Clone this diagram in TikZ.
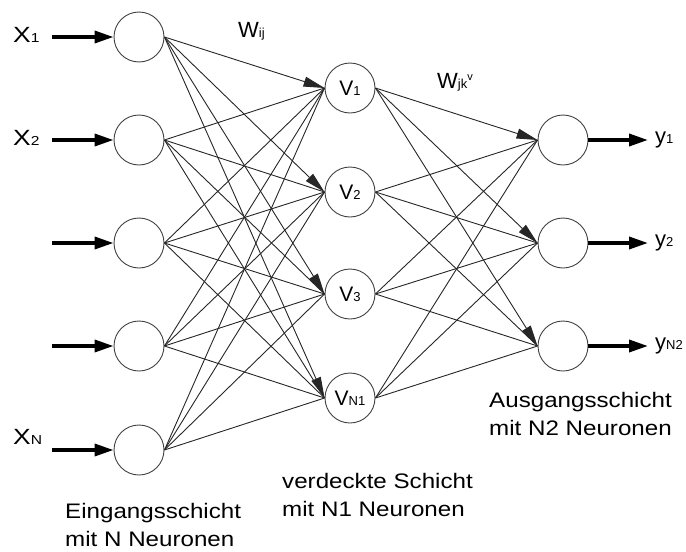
\documentclass[tikz,border=0pt]{standalone}
\usepackage{fontspec}
\setmainfont{Liberation Sans}
\usepackage{tikz}
\usetikzlibrary{arrows.meta,positioning}

\newcommand{\idx}[1]{{\fontsize{13}{13}\selectfont #1}}

\begin{document}
\begin{tikzpicture}[x=1pt,y=-1pt,
    neuron/.style={circle,draw=black!75,line width=0.9pt,minimum size=50pt,inner sep=0pt,font=\fontsize{21}{21}\selectfont},
    conn/.style={draw=black!85,line width=0.9pt},
    tip/.style={-{Triangle[length=21pt,width=10pt]}},
    io/.style={line width=3.5pt,-{Triangle[length=19pt,width=12pt]}},
    sym/.style={font=\fontsize{22}{22}\selectfont,inner sep=0pt},
    lbl/.style={font=\fontsize{21}{28.5}\selectfont,align=left,inner sep=0pt,xscale=1.15}]
\useasboundingbox (0,0) rectangle (686,552);

% neurons
\foreach \i/\y in {1/37,2/140,3/243,4/346,5/450} {
    \node[neuron] (in\i) at (139,\y) {};
    \coordinate (x\i) at (52,\y);
    \draw[io] (x\i) -- (in\i.west);
}
\foreach \j/\y/\s in {1/88/1,2/192/2,3/294/3,4/398/N1}
    \node[neuron] (hid\j) at (350,\y) {V\idx{\s}};
\foreach \k/\y in {1/140,2/243,3/346} {
    \node[neuron] (out\k) at (563,\y) {};
    \coordinate (o\k) at (648,\y);
    \draw[io] (out\k.east) -- (o\k);
}

% weights, arrows only from the first neuron
\foreach \i in {1,...,5}
    \foreach \j in {1,...,4} {
        \ifnum\i=1 \draw[conn,tip] (in\i.east) -- (hid\j.west);
        \else \draw[conn] (in\i.east) -- (hid\j.west); \fi
    }
\foreach \j in {1,...,4}
    \foreach \k in {1,...,3} {
        \ifnum\j=1 \draw[conn,tip] (hid\j.east) -- (out\k.west);
        \else \draw[conn] (hid\j.east) -- (out\k.west); \fi
    }

% symbols
\node[sym,anchor=base west,xscale=1.2] (lx1) at (13,42.5) {X\idx{1}};
\node[sym,anchor=base west,xscale=1.2] (lx2) at (13,145.5) {X\idx{2}};
\node[sym,anchor=base west,xscale=1.2] (lxn) at (13,444) {X\idx{N}};
\node[sym,anchor=west] (ly1) at ([xshift=7pt]o1) {y\idx{1}};
\node[sym,anchor=west] (ly2) at ([xshift=7pt]o2) {y\idx{2}};
\node[sym,anchor=west] (ly3) at ([xshift=7pt]o3) {y\idx{N2}};
\node[sym,anchor=base west] (wij) at (238,37) {W\idx{ij}};
\node[sym,anchor=base west] (wjk) at (437,88) {W\idx{jk}\raisebox{8pt}{\fontsize{11}{11}\selectfont v}};

% layer names
\node[lbl,anchor=north west] (lin) at (65,503) {Eingangsschicht\\mit N Neuronen};
\node[lbl,anchor=north west] (lhid) at (282,473) {verdeckte Schicht\\mit N1 Neuronen};
\node[lbl,anchor=north west] (lout) at (489,392) {Ausgangsschicht\\mit N2 Neuronen};
\end{tikzpicture}
\end{document}
